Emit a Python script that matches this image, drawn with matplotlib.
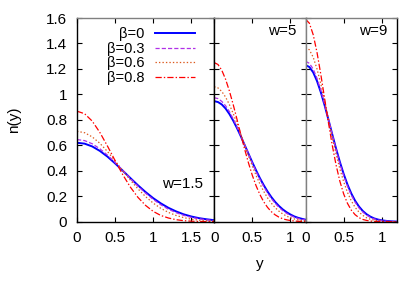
import matplotlib.pyplot as plt

plt.rcParams['font.family'] = ['Liberation Sans', 'DejaVu Sans']
plt.rcParams['lines.scale_dashes'] = False

# y grids for the three panels
y_w15 = [0.0, 0.1, 0.2, 0.3, 0.4, 0.5, 0.6, 0.7, 0.8, 0.9, 1.0,
         1.1, 1.2, 1.3, 1.4, 1.5, 1.6, 1.7, 1.8]
y_w5 = [0.0, 0.05, 0.1, 0.15, 0.2, 0.25, 0.3, 0.35, 0.4, 0.45, 0.5, 0.55, 0.6,
        0.65, 0.7, 0.75, 0.8, 0.85, 0.9, 0.95, 1.0, 1.05, 1.1, 1.15, 1.2]
y_w9 = y_w5

# n(y), w = 1.5
n15_b0 = [0.620, 0.613, 0.591, 0.556, 0.511, 0.458, 0.401, 0.343, 0.286, 0.233,
          0.185, 0.144, 0.109, 0.081, 0.058, 0.041, 0.028, 0.019, 0.012]
n15_b3 = [0.645, 0.637, 0.612, 0.573, 0.523, 0.465, 0.403, 0.340, 0.279, 0.224,
          0.175, 0.133, 0.098, 0.071, 0.050, 0.034, 0.023, 0.015, 0.009]
n15_b6 = [0.710, 0.699, 0.666, 0.616, 0.551, 0.478, 0.401, 0.327, 0.258, 0.197,
          0.146, 0.105, 0.073, 0.049, 0.032, 0.020, 0.012, 0.007, 0.004]
n15_b8 = [0.868, 0.848, 0.790, 0.701, 0.594, 0.480, 0.370, 0.272, 0.191, 0.128,
          0.081, 0.049, 0.029, 0.016, 0.008, 0.004, 0.002, 0.001, 0.000]

# w = 5
n5_b0 = [0.947, 0.940, 0.921, 0.889, 0.846, 0.794, 0.735, 0.671, 0.603, 0.535,
         0.468, 0.404, 0.343, 0.288, 0.238, 0.194, 0.156, 0.124, 0.097, 0.075,
         0.057, 0.042, 0.031, 0.023, 0.016]
n5_b3 = [0.974, 0.967, 0.945, 0.911, 0.865, 0.808, 0.745, 0.676, 0.605, 0.533,
         0.462, 0.395, 0.333, 0.277, 0.226, 0.182, 0.145, 0.113, 0.087, 0.066,
         0.049, 0.036, 0.026, 0.019, 0.013]
n5_b6 = [1.060, 1.051, 1.023, 0.979, 0.920, 0.850, 0.771, 0.688, 0.603, 0.519,
         0.439, 0.364, 0.297, 0.239, 0.188, 0.146, 0.111, 0.083, 0.061, 0.044,
         0.031, 0.022, 0.015, 0.010, 0.007]
n5_b8 = [1.250, 1.235, 1.190, 1.119, 1.027, 0.920, 0.804, 0.685, 0.570, 0.463,
         0.366, 0.283, 0.214, 0.157, 0.113, 0.079, 0.054, 0.036, 0.023, 0.015,
         0.009, 0.006, 0.003, 0.002, 0.001]

# w = 9
n9_b0 = [1.230, 1.215, 1.173, 1.105, 1.017, 0.914, 0.802, 0.687, 0.575, 0.470,
         0.375, 0.292, 0.222, 0.165, 0.120, 0.085, 0.059, 0.040, 0.026, 0.017,
         0.011, 0.007, 0.004, 0.002, 0.001]
n9_b3 = [1.260, 1.244, 1.199, 1.126, 1.032, 0.923, 0.804, 0.684, 0.567, 0.459,
         0.362, 0.279, 0.209, 0.153, 0.109, 0.076, 0.052, 0.034, 0.022, 0.014,
         0.009, 0.005, 0.003, 0.002, 0.001]
n9_b6 = [1.370, 1.350, 1.292, 1.200, 1.082, 0.948, 0.806, 0.665, 0.533, 0.415,
         0.314, 0.230, 0.164, 0.113, 0.076, 0.050, 0.031, 0.019, 0.012, 0.007,
         0.004, 0.002, 0.001, 0.000, 0.000]
n9_b8 = [1.590, 1.559, 1.469, 1.330, 1.157, 0.968, 0.778, 0.601, 0.446, 0.318,
         0.218, 0.144, 0.091, 0.055, 0.032, 0.018, 0.010, 0.005, 0.003, 0.001,
         0.001, 0.000, 0.000, 0.000, 0.000]

labels = ['β=0', 'β=0.3', 'β=0.6', 'β=0.8']
colors = ['#0000ff', '#b030e8', '#dc5a1e', '#ff0000']
widths = [1.4, 0.9, 0.9, 0.9]
dashes = [None, (3, 1.5), (1, 1.5), (4.5, 1.5, 1, 1.5)]

panels = [
    (y_w15, [n15_b0, n15_b3, n15_b6, n15_b8], 'w=1.5', 1.8, [0, 0.5, 1, 1.5]),
    (y_w5, [n5_b0, n5_b3, n5_b6, n5_b8], 'w=5', 1.2, [0, 0.5, 1]),
    (y_w9, [n9_b0, n9_b3, n9_b6, n9_b8], 'w=9', 1.2, [0, 0.5, 1]),
]

fig = plt.figure(figsize=(4.07, 2.84), dpi=100)
gs = fig.add_gridspec(1, 3, width_ratios=[1.8, 1.2, 1.2], wspace=0,
                      left=77/407, right=397/407, bottom=62.3/284, top=266/284)

axes = []
for i, (yy, curves, wlab, xmax, xt) in enumerate(panels):
    ax = fig.add_subplot(gs[0, i])
    axes.append(ax)
    for n, lab, c, lw, d in zip(curves, labels, colors, widths, dashes):
        line, = ax.plot(yy, n, color=c, lw=lw, label=lab)
        if d is not None:
            line.set_dashes(d)
    ax.set_xlim(0, xmax)
    ax.set_ylim(0, 1.6)
    ax.set_xticks(xt)
    ax.set_xticklabels([('%g' % v) for v in xt])
    ax.set_yticks([0, 0.2, 0.4, 0.6, 0.8, 1.0, 1.2, 1.4, 1.6])
    ax.tick_params(direction='in', length=3.5, width=0.8, labelsize=11,
                   top=True, right=True, pad=7)
    if i > 0:
        ax.tick_params(labelleft=False)
    else:
        ax.set_yticklabels(['0', '0.2', '0.4', '0.6', '0.8', '1', '1.2', '1.4', '1.6'])
    ax.spines['top'].set_color('#808080')
    for s in ax.spines.values():
        s.set_linewidth(1.0)
    if wlab == 'w=1.5':
        ax.text(0.92, 0.185, wlab, transform=ax.transAxes, ha='right',
                va='center', fontsize=11)
    else:
        ax.text(0.9, 0.935, wlab, transform=ax.transAxes, ha='right',
                va='center', fontsize=11)

axes[1].spines['right'].set_color('#808080')
axes[2].spines['left'].set_color('#808080')

axes[0].set_ylabel('n(y)', fontsize=11, labelpad=18)
axes[1].set_xlabel('y', fontsize=11, labelpad=8)

axes[0].legend(loc='upper right', bbox_to_anchor=(0.86, 0.955), frameon=False,
               markerfirst=False, handlelength=2.75, handletextpad=0.7,
               labelspacing=0.04, borderpad=0, borderaxespad=0, fontsize=10.5)

plt.savefig('out.png', dpi=100)
plt.close()
